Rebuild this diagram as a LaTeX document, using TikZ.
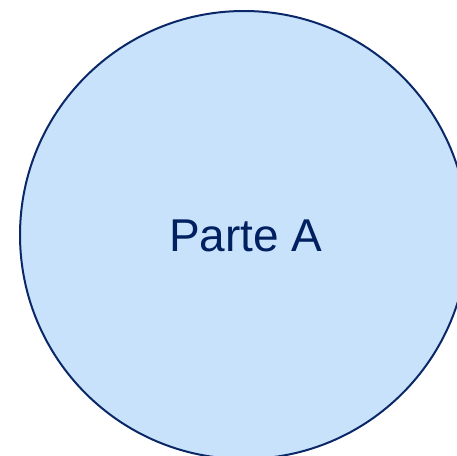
\documentclass[tikz,border=0pt]{standalone}
\usepackage{fontspec}
\setmainfont{Liberation Sans}
\definecolor{fillblue}{HTML}{C9E2FC}
\definecolor{edgeblue}{HTML}{0A2868}
\definecolor{textblue}{HTML}{002060}
\tikzset{part/.style={circle, draw=edgeblue, fill=fillblue, line width=2pt, minimum size=448pt, inner sep=0pt}}
\begin{document}
\begin{tikzpicture}[x=1pt,y=1pt]
\useasboundingbox (0,0) rectangle (457,-455);
\node[part] (a) at (244,-235) {};
\node[text=textblue, font=\fontsize{46}{55}\selectfont] (lbl) at (246,-236) {Parte A};
\end{tikzpicture}
\end{document}
